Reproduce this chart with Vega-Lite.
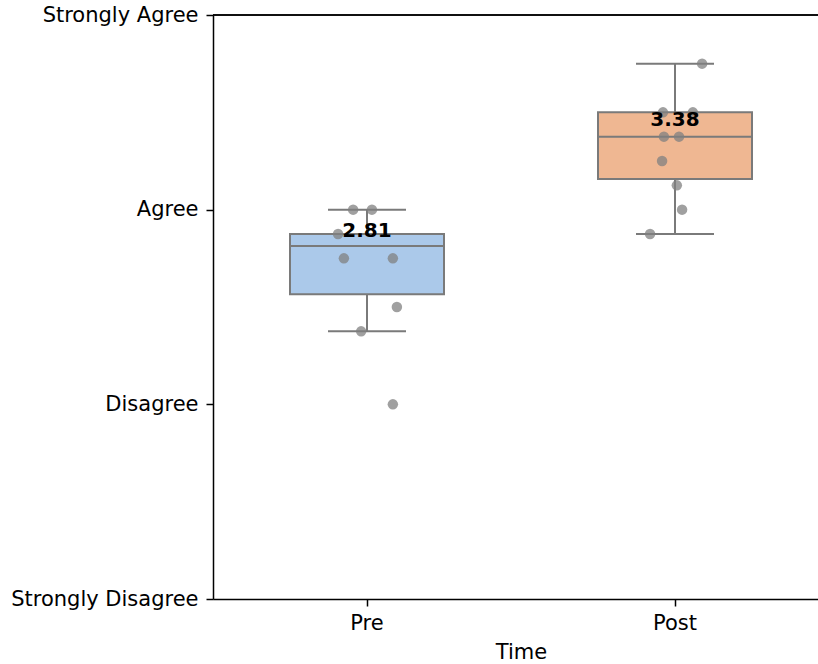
{
  "$schema": "https://vega.github.io/schema/vega-lite/v6.json",
  "autosize": {"type": "none"},
  "padding": {"left": 213, "top": 15, "right": 0, "bottom": 65},
  "width": 605,
  "height": 584,
  "background": "white",
  "config": {
    "view": {"stroke": null},
    "font": "DejaVu Sans",
    "axis": {"labelFont": "DejaVu Sans", "titleFont": "DejaVu Sans", "labelFontSize": 21, "titleFontSize": 21, "labelColor": "black", "titleColor": "black", "titleFontWeight": "normal", "domainColor": "black", "domainWidth": 1.5, "tickColor": "black", "tickWidth": 1.5, "tickSize": 7, "labelPadding": 8, "labelLimit": 0, "grid": false}
  },
  "datasets": {
    "summary": [
      {"Time": "Pre", "q1": 2.565, "median": 2.813, "q3": 2.875, "lower": 2.375, "upper": 3.0, "mean": 2.81, "label": "2.81"},
      {"Time": "Post", "q1": 3.158, "median": 3.375, "q3": 3.5, "lower": 2.875, "upper": 3.75, "mean": 3.38, "label": "3.38"}
    ],
    "points": [
      {"Time": "Pre", "score": 3.0, "jitter": -0.045},
      {"Time": "Pre", "score": 3.0, "jitter": 0.016},
      {"Time": "Pre", "score": 2.875, "jitter": -0.094},
      {"Time": "Pre", "score": 2.75, "jitter": -0.075},
      {"Time": "Pre", "score": 2.75, "jitter": 0.084},
      {"Time": "Pre", "score": 2.5, "jitter": 0.097},
      {"Time": "Pre", "score": 2.375, "jitter": -0.019},
      {"Time": "Pre", "score": 2.0, "jitter": 0.084},
      {"Time": "Post", "score": 3.75, "jitter": 0.088},
      {"Time": "Post", "score": 3.5, "jitter": -0.039},
      {"Time": "Post", "score": 3.5, "jitter": 0.058},
      {"Time": "Post", "score": 3.375, "jitter": -0.036},
      {"Time": "Post", "score": 3.375, "jitter": 0.013},
      {"Time": "Post", "score": 3.25, "jitter": -0.042},
      {"Time": "Post", "score": 3.125, "jitter": 0.006},
      {"Time": "Post", "score": 3.0, "jitter": 0.023},
      {"Time": "Post", "score": 2.875, "jitter": -0.081}
    ]
  },
  "encoding": {
    "x": {
      "field": "Time", "type": "nominal",
      "scale": {"domain": ["Pre", "Post"], "range": [0, 616], "paddingInner": 0, "paddingOuter": 0},
      "axis": {"labelAngle": 0, "title": "Time", "labelPadding": 6, "titlePadding": 8, "titleX": 308}
    }
  },
  "layer": [
    {
      "data": {"name": "summary"},
      "mark": {"type": "rule", "color": "black", "strokeWidth": 1.5},
      "encoding": {
        "x": {"value": 0},
        "x2": {"value": 605},
        "y": {"datum": 4, "type": "quantitative", "scale": {"domain": [1, 4], "nice": false, "zero": false},
          "axis": {"values": [1, 2, 3, 4], "title": null, "labelExpr": "datum.value == 1 ? 'Strongly Disagree' : datum.value == 2 ? 'Disagree' : datum.value == 3 ? 'Agree' : 'Strongly Agree'"}}
      }
    },
    {
      "data": {"name": "summary"},
      "mark": {"type": "rule", "color": "#7a7a7a", "strokeWidth": 2},
      "encoding": {
        "y": {"field": "lower", "type": "quantitative"},
        "y2": {"field": "upper"}
      }
    },
    {
      "data": {"name": "summary"},
      "mark": {"type": "tick", "color": "#7a7a7a", "thickness": 2, "size": 78, "opacity": 1},
      "encoding": {"y": {"field": "lower", "type": "quantitative"}}
    },
    {
      "data": {"name": "summary"},
      "mark": {"type": "tick", "color": "#7a7a7a", "thickness": 2, "size": 78, "opacity": 1},
      "encoding": {"y": {"field": "upper", "type": "quantitative"}}
    },
    {
      "data": {"name": "summary"},
      "mark": {"type": "bar", "width": 154, "stroke": "#7a7a7a", "strokeWidth": 2, "opacity": 1},
      "encoding": {
        "y": {"field": "q1", "type": "quantitative"},
        "y2": {"field": "q3"},
        "color": {"field": "Time", "type": "nominal", "scale": {"domain": ["Pre", "Post"], "range": ["#abc9ea", "#efb792"]}, "legend": null}
      }
    },
    {
      "data": {"name": "summary"},
      "mark": {"type": "tick", "color": "#7a7a7a", "thickness": 2, "size": 154, "opacity": 1},
      "encoding": {"y": {"field": "median", "type": "quantitative"}}
    },
    {
      "data": {"name": "points"},
      "mark": {"type": "point", "filled": true, "color": "gray", "opacity": 0.75, "size": 110},
      "encoding": {
        "y": {"field": "score", "type": "quantitative"},
        "xOffset": {"field": "jitter", "type": "quantitative", "scale": {"domain": [-0.5, 0.5], "range": [0, 308]}}
      }
    },
    {
      "data": {"name": "summary"},
      "mark": {"type": "text", "font": "DejaVu Sans", "fontSize": 20, "fontWeight": "bold", "color": "black", "baseline": "alphabetic", "dy": -10},
      "encoding": {
        "y": {"field": "mean", "type": "quantitative"},
        "text": {"field": "label"}
      }
    }
  ]
}
